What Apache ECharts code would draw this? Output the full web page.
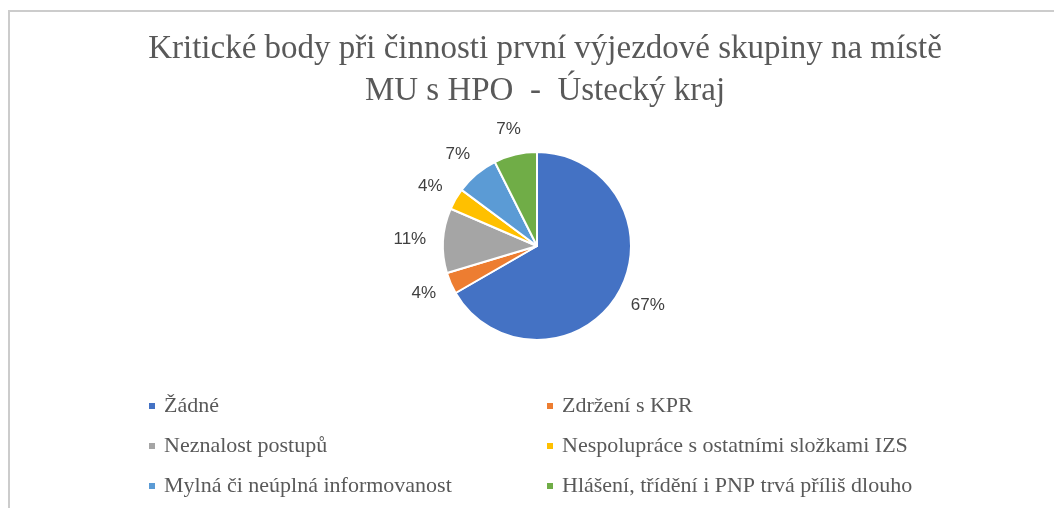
<!DOCTYPE html>
<html>
<head>
<meta charset="utf-8">
<script src="https://cdn.jsdelivr.net/npm/echarts@6/dist/echarts.min.js"></script>
<style>
  html, body { margin: 0; padding: 0; background: #fff; }
  #chart { width: 1054px; height: 508px; }
</style>
</head>
<body>
<div id="chart"></div>
<script>
// pie data - counts read from the percentages (n = 27)
const categories = [
    'Žádné',
    'Zdržení s KPR',
    'Neznalost postupů',
    'Nespolupráce s ostatními složkami IZS',
    'Mylná či neúplná informovanost',
    'Hlášení, třídění i PNP trvá příliš dlouho'
];
const counts = [18, 1, 3, 1, 2, 2];
const colors = ['#4472C4', '#ED7D31', '#A5A5A5', '#FFC000', '#5B9BD5', '#70AD47'];

const chart = echarts.init(document.getElementById('chart'));

const legendText = {
    fontFamily: 'Liberation Serif',
    fontSize: 22,
    color: '#595959',
    lineHeight: 22,
    padding: [0, 0, 0, 3]
};

const legendBase = {
    orient: 'vertical',
    top: 395,
    padding: 0,
    itemGap: 18,
    itemWidth: 8,
    itemHeight: 8,
    icon: 'rect',
    textStyle: legendText
};

const option = {
    backgroundColor: '#fff',
    animation: false,
    color: colors,
    title: {
        text: 'Kritické body při činnosti první výjezdové skupiny na místě\nMU s HPO  -  Ústecký kraj',
        left: 540,
        top: 23,
        textAlign: 'center',
        textStyle: {
            fontFamily: 'Liberation Serif',
            fontWeight: 'normal',
            fontSize: 33,
            lineHeight: 42,
            color: '#595959'
        }
    },
    graphic: [{
        type: 'rect',
        shape: { x: 9, y: 11, width: 1200, height: 700 },
        style: { fill: 'none', stroke: '#cccccc', lineWidth: 2 },
        silent: true
    }],
    legend: [
        Object.assign({}, legendBase, {
            left: 147,
            data: [categories[0], categories[2], categories[4]]
        }),
        Object.assign({}, legendBase, {
            left: 545,
            data: [categories[1], categories[3], categories[5]]
        })
    ],
    series: [{
        type: 'pie',
        center: [537, 246],
        radius: 94,
        startAngle: 90,
        clockwise: true,
        percentPrecision: 0,
        itemStyle: { borderColor: '#fff', borderWidth: 2 },
        label: {
            show: true,
            position: 'outside',
            formatter: '{d}%',
            fontFamily: 'Liberation Sans',
            fontSize: 17,
            color: '#404040'
        },
        labelLine: {
            show: true,
            length: 17,
            length2: 0,
            lineStyle: { opacity: 0 }
        },
        labelLayout: function (p) {
            // Office "outside end": the label box sits just beyond the anchor point
            if (!p.labelLinePoints) return {};
            const a = p.labelLinePoints[0];
            const b = p.labelLinePoints[1];
            const len = Math.hypot(b[0] - a[0], b[1] - a[1]) || 1;
            const dx = (b[0] - a[0]) / len;
            const dy = (b[1] - a[1]) / len;
            const w = p.labelRect.width;
            const h = p.labelRect.height;
            return {
                x: b[0] + dx * w / 2,
                y: b[1] + dy * h / 2,
                align: 'center',
                verticalAlign: 'middle'
            };
        },
        emphasis: { disabled: true },
        data: categories.map((name, i) => ({ name: name, value: counts[i] }))
    }]
};

chart.setOption(option);
</script>
</body>
</html>
